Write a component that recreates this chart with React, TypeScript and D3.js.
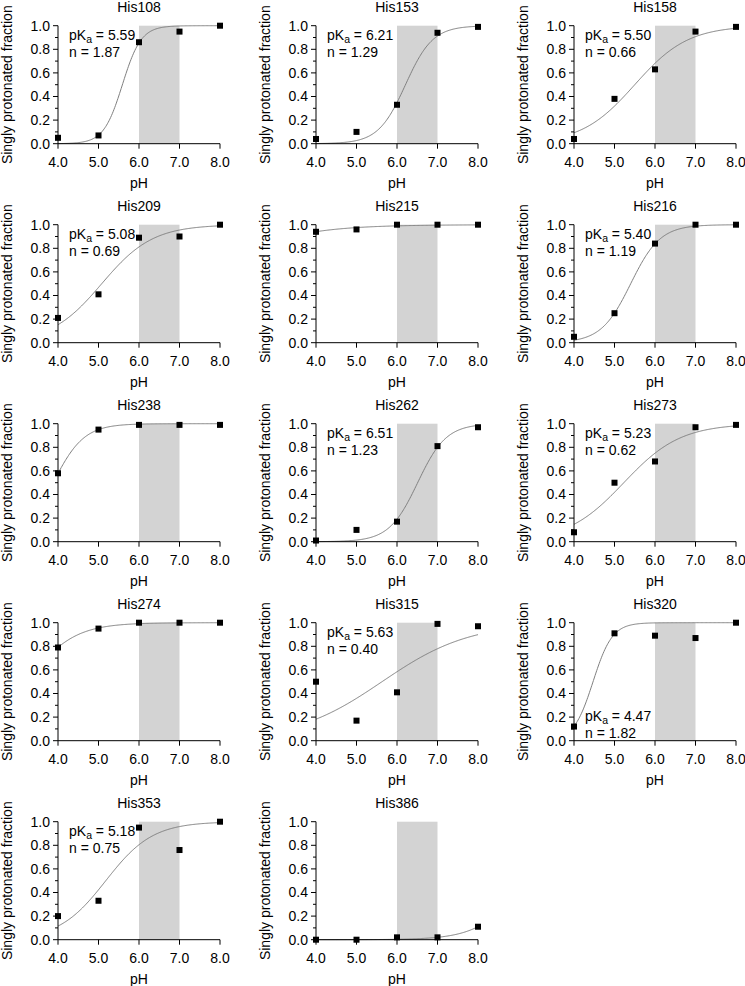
import React from "react";
import * as d3 from "d3";

// ---- Data ----
const residues = ["His108", "His153", "His158", "His209", "His215", "His216", "His238", "His262", "His273", "His274", "His315", "His320", "His353", "His386"];
const phValues = [4, 5, 6, 7, 8];
const fractions = [
  [0.05, 0.07, 0.86, 0.95, 1.0],
  [0.04, 0.10, 0.33, 0.94, 0.99],
  [0.04, 0.38, 0.63, 0.95, 0.99],
  [0.21, 0.41, 0.89, 0.90, 1.0],
  [0.94, 0.96, 1.0, 1.0, 1.0],
  [0.05, 0.25, 0.84, 1.0, 1.0],
  [0.58, 0.95, 0.99, 0.99, 0.99],
  [0.01, 0.10, 0.17, 0.81, 0.97],
  [0.08, 0.50, 0.68, 0.97, 0.99],
  [0.79, 0.95, 1.0, 1.0, 1.0],
  [0.50, 0.17, 0.41, 0.99, 0.97],
  [0.12, 0.91, 0.89, 0.87, 1.0],
  [0.20, 0.33, 0.95, 0.76, 1.0],
  [0.0, 0.0, 0.02, 0.02, 0.11],
];
// Fitted Hill parameters (fit curve); labels shown where provided
const pKaFit = [5.59, 6.21, 5.50, 5.08, 1.0, 5.40, 3.88, 6.51, 5.23, 3.23, 5.63, 4.47, 5.18, 9.16];
const nFit = [1.87, 1.29, 0.66, 0.69, 0.4, 1.19, 1.14, 1.23, 0.62, 0.75, 0.40, 1.82, 0.75, 0.78];
const pKaLabel = ["5.59", "6.21", "5.50", "5.08", null, "5.40", null, "6.51", "5.23", null, "5.63", "4.47", "5.18", null];
const nLabel = ["1.87", "1.29", "0.66", "0.69", null, "1.19", null, "1.23", "0.62", null, "0.40", "1.82", "0.75", null];
const labelAtBottom = [false, false, false, false, false, false, false, false, false, false, false, true, false, false];
const shadeRange = [6, 7];
const xTicks = [4, 5, 6, 7, 8];
const yTicks = [0, 0.2, 0.4, 0.6, 0.8, 1.0];
const yMinorTicks = [0.1, 0.3, 0.5, 0.7, 0.9];

const FONT = "'Liberation Sans', Arial, sans-serif";

const W = 745, H = 986;
const PW = 162, PH = 118;
const left0 = 58, top0 = 25.7, colStep = 258, rowStep = 199;

function Panel({ i }: { i: number }) {
  const col = i % 3, row = Math.floor(i / 3);
  const x0 = left0 + col * colStep;
  const y0 = top0 + row * rowStep;
  const x = d3.scaleLinear().domain([4, 8]).range([x0, x0 + PW]);
  const y = d3.scaleLinear().domain([0, 1]).range([y0 + PH, y0]);
  const pk = pKaFit[i], n = nFit[i];
  const hill = (ph: number) => 1 / (1 + Math.pow(10, n * (pk - ph)));
  const curvePts = d3.range(0, 201).map((k) => 4 + (k * 4) / 200);
  const line = d3.line<number>().x((p) => x(p)).y((p) => y(hill(p)));
  const ms = 6;
  const fs = 14;
  const ly1 = labelAtBottom[i] ? y0 + PH - 20 : y0 + 14;
  const ly2 = ly1 + 17;
  return (
    <g>
      <rect x={x(shadeRange[0])} y={y(1)} width={x(shadeRange[1]) - x(shadeRange[0])} height={y(0) - y(1)} fill="#d3d3d3" />
      <path d={line(curvePts) || ""} fill="none" stroke="#7f7f7f" strokeWidth={1} />
      {phValues.map((p, k) => (
        <rect key={k} x={x(p) - ms / 2} y={y(fractions[i][k]) - ms / 2} width={ms} height={ms} fill="#000" />
      ))}
      {/* axes */}
      <line x1={x0} x2={x0} y1={y(0)} y2={y(1)} stroke="#000" strokeWidth={1} />
      <line x1={x0} x2={x0 + PW} y1={y(0)} y2={y(0)} stroke="#000" strokeWidth={1} />
      {yTicks.map((t) => (
        <g key={"y" + t}>
          <line x1={x0 - 5} x2={x0} y1={y(t)} y2={y(t)} stroke="#000" />
          <text x={x0 - 8} y={y(t)} dy="0.35em" textAnchor="end" fontSize={fs} fontFamily={FONT}>{t.toFixed(1)}</text>
        </g>
      ))}
      {yMinorTicks.map((t) => (
        <line key={"m" + t} x1={x0 - 3} x2={x0} y1={y(t)} y2={y(t)} stroke="#000" />
      ))}
      {xTicks.map((t) => (
        <g key={"x" + t}>
          <line x1={x(t)} x2={x(t)} y1={y(0)} y2={y(0) + 5} stroke="#000" />
          <text x={x(t)} y={y(0) + 18.5} dy="0.35em" textAnchor="middle" fontSize={fs} fontFamily={FONT}>{t.toFixed(1)}</text>
        </g>
      ))}
      <text x={x0 + PW / 2} y={y0 + PH + 39.5} dy="0.35em" textAnchor="middle" fontSize={fs} fontFamily={FONT}>pH</text>
      <text x={x0 + PW / 2} y={y0 - 19} dy="0.35em" textAnchor="middle" fontSize={fs} fontFamily={FONT}>{residues[i]}</text>
      <text transform={`translate(${x0 - 51},${y0 + PH / 2}) rotate(-90)`} dy="0.35em" textAnchor="middle" fontSize={fs} fontFamily={FONT}>Singly protonated fraction</text>
      {pKaLabel[i] && (
        <text x={x0 + 11} y={ly1} fontSize={fs} fontFamily={FONT}>
          pK<tspan fontSize={fs * 0.75} dy={3}>a</tspan><tspan dy={-3}>{" = " + pKaLabel[i]}</tspan>
        </text>
      )}
      {nLabel[i] && (
        <text x={x0 + 11} y={ly2} fontSize={fs} fontFamily={FONT}>{"n = " + nLabel[i]}</text>
      )}
    </g>
  );
}

export default function App() {
  return (
    <svg width={W} height={H} style={{ position: "absolute", left: 0, top: 0, background: "#fff" }}>
      <rect width={W} height={H} fill="#fff" />
      {residues.map((_, i) => <Panel key={i} i={i} />)}
    </svg>
  );
}
